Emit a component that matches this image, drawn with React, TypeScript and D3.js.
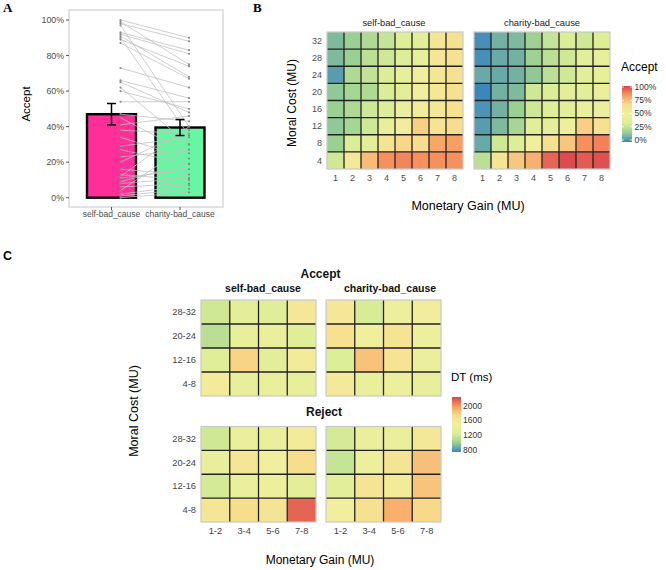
import React from "react";
import * as d3 from "d3";

// ---------- Data ----------
const conditions = ["self-bad_cause", "charity-bad_cause"];
const barMeans = [47, 39.5];
const barSE = [6, 4.5];
const barColors = ["#ff2e98", "#66f7a2"];

// per-subject acceptance (%)
const subjSelf = [100, 99, 98, 97, 93, 92, 91, 90, 89, 87, 73, 66, 65, 62, 60, 54, 47, 45, 41, 38, 34, 29, 27, 23, 20, 16, 12, 11, 8, 6, 4, 2, 1, 0, 13, 9];
const subjCharity = [90, 75, 88, 40, 83, 81, 68, 35, 74, 67, 62, 56, 48, 30, 50, 54, 43, 25, 46, 36, 22, 34, 19, 27, 38, 13, 40, 16, 11, 8, 30, 7, 5, 3, 10, 19];
const pctTicks = [0, 20, 40, 60, 80, 100];

const gains = [1, 2, 3, 4, 5, 6, 7, 8];
const costs = [32, 28, 24, 20, 16, 12, 8, 4];
// rows: cost 32 (top) -> 4 (bottom); cols: gain 1..8
const acceptSelf = [
  [0.12, 0.17, 0.22, 0.28, 0.35, 0.38, 0.58, 0.62],
  [0.12, 0.17, 0.25, 0.3, 0.35, 0.42, 0.58, 0.62],
  [0.05, 0.22, 0.27, 0.33, 0.42, 0.5, 0.58, 0.62],
  [0.15, 0.2, 0.22, 0.33, 0.4, 0.5, 0.57, 0.62],
  [0.17, 0.22, 0.3, 0.35, 0.45, 0.52, 0.57, 0.62],
  [0.15, 0.2, 0.3, 0.42, 0.52, 0.7, 0.6, 0.65],
  [0.17, 0.33, 0.4, 0.6, 0.68, 0.65, 0.8, 0.82],
  [0.3, 0.55, 0.75, 0.85, 0.87, 0.85, 0.85, 0.85],
];
const acceptCharity = [
  [0.02, 0.1, 0.12, 0.18, 0.28, 0.33, 0.3, 0.35],
  [0.02, 0.08, 0.1, 0.18, 0.25, 0.3, 0.38, 0.42],
  [0.08, 0.08, 0.1, 0.15, 0.25, 0.3, 0.38, 0.42],
  [0.0, 0.1, 0.12, 0.3, 0.33, 0.4, 0.38, 0.45],
  [0.03, 0.1, 0.17, 0.3, 0.35, 0.4, 0.45, 0.45],
  [0.05, 0.12, 0.2, 0.38, 0.4, 0.48, 0.7, 0.62],
  [0.08, 0.3, 0.35, 0.5, 0.62, 0.72, 0.85, 0.88],
  [0.25, 0.6, 0.72, 0.78, 0.93, 0.98, 0.95, 0.97],
];
const acceptTicks = [0, 0.25, 0.5, 0.75, 1];

const gainBins = ["1-2", "3-4", "5-6", "7-8"];
const costBins = ["28-32", "20-24", "12-16", "4-8"];
const dtAcceptSelf = [
  [1200, 1350, 1300, 1600],
  [1120, 1380, 1400, 1300],
  [1300, 1780, 1350, 1550],
  [1550, 1380, 1420, 1380],
];
const dtAcceptCharity = [
  [1600, 1230, 1450, 1520],
  [1700, 1480, 1650, 1450],
  [1250, 1850, 1650, 1430],
  [1580, 1420, 1440, 1380],
];
const dtRejectSelf = [
  [1200, 1420, 1420, 1550],
  [1380, 1620, 1500, 1720],
  [1220, 1420, 1460, 1350],
  [1620, 1730, 1650, 2150],
];
const dtRejectCharity = [
  [1220, 1420, 1400, 1600],
  [1170, 1450, 1650, 1860],
  [1330, 1650, 1550, 1840],
  [1500, 1680, 1920, 1760],
];
const dtTicks = [800, 1200, 1600, 2000];

// Spectral (reversed) as it appears in the figure
const spectral = ["#3b86bb", "#98d093", "#dcee96", "#f1ef9e", "#f8dc8c", "#f99a5f", "#d8414d"];

// ---------- Helpers ----------
const sans = "'Liberation Sans', Arial, sans-serif";
const tickGrey = "#4d4d4d";

function Heat({ data, xDom, yDom, x0, x1, y0, y1, color }: any) {
  const xs = d3.scaleBand<any>().domain(xDom).range([x0, x1]);
  const ys = d3.scaleBand<any>().domain(yDom).range([y0, y1]);
  return (
    <g>
      {data.map((row: number[], i: number) =>
        row.map((v, j) => (
          <rect key={i + "-" + j} x={xs(xDom[j])} y={ys(yDom[i])} width={xs.bandwidth()} height={ys.bandwidth()} fill={color(v)} />
        ))
      )}
      {xDom.slice(1).map((d: any) => (
        <line key={"vx" + d} x1={xs(d)} x2={xs(d)} y1={y0} y2={y1} stroke="#222" strokeWidth={1.3} />
      ))}
      {yDom.slice(1).map((d: any) => (
        <line key={"hy" + d} x1={x0} x2={x1} y1={ys(d)} y2={ys(d)} stroke="#222" strokeWidth={1.3} />
      ))}
      <rect x={x0} y={y0} width={x1 - x0} height={y1 - y0} fill="none" stroke="#c8c8c8" strokeWidth={1.2} />
    </g>
  );
}

export default function App() {
  // ---- Panel A ----
  const yA = d3.scaleLinear().domain([0, 100]).range([197.7, 20]);
  const xA = d3.scaleBand<string>().domain(conditions).range([87, 204.5]).paddingInner(0.285).paddingOuter(0);
  const cx = (c: string) => (xA(c) as number) + xA.bandwidth() / 2;
  const nudge = 9;

  // ---- Panel B ----
  const accColor = d3.scaleLinear<string>().domain(spectral.map((_, i) => i / (spectral.length - 1))).range(spectral).clamp(true);
  const bY = d3.scaleBand<number>().domain(costs).range([32, 169]);
  const bXL = d3.scaleBand<number>().domain(gains).range([327, 463]);
  const bXR = d3.scaleBand<number>().domain(gains).range([474, 610]);
  const legBY = d3.scaleLinear().domain([0, 1]).range([140, 87]);

  // ---- Panel C ----
  const dtColor = d3.scaleLinear<string>().domain(spectral.map((_, i) => 750 + (i * 1500) / (spectral.length - 1))).range(spectral).clamp(true);
  const cXL = d3.scaleBand<string>().domain(gainBins).range([201, 316]);
  const cXR = d3.scaleBand<string>().domain(gainBins).range([326, 441]);
  const cYT = d3.scaleBand<string>().domain(costBins).range([300, 396]);
  const cYB = d3.scaleBand<string>().domain(costBins).range([426.5, 522]);
  const legCY = d3.scaleLinear().domain([800, 2000]).range([450, 405.7]);

  return (
    <svg width={666} height={570} style={{ position: "absolute", left: 0, top: 0, background: "#fff" }}>
      <defs>
        <linearGradient id="gB" x1="0" x2="0" y1="1" y2="0">
          {spectral.map((c, i) => (
            <stop key={i} offset={i / (spectral.length - 1)} stopColor={c} />
          ))}
        </linearGradient>
      </defs>

      {/* Panel letters */}
      <text x={3} y={12} fontFamily="'Liberation Serif', serif" fontWeight="bold" fontSize={13}>A</text>
      <text x={253} y={12} fontFamily="'Liberation Serif', serif" fontWeight="bold" fontSize={13}>B</text>
      <text x={3} y={260} fontFamily={sans} fontWeight="bold" fontSize={12.5}>C</text>

      {/* ===== Panel A ===== */}
      <rect x={69} y={10} width={154} height={197} fill="#fff" stroke="#cfcfcf" strokeWidth={1.2} />
      {pctTicks.map((t) => (
        <g key={t}>
          <line x1={66} x2={69} y1={yA(t)} y2={yA(t)} stroke="#555" />
          <text x={64} y={yA(t)} dy="0.35em" textAnchor="end" fontSize={8.8} fill={tickGrey} fontFamily={sans}>{t}%</text>
        </g>
      ))}
      {conditions.map((c) => (
        <g key={c}>
          <line x1={cx(c)} x2={cx(c)} y1={207} y2={210} stroke="#555" />
          <text x={cx(c)} y={216.5} textAnchor="middle" fontSize={8.5} fill={tickGrey} fontFamily={sans}>{c}</text>
        </g>
      ))}
      <text transform={`translate(29.5,104) rotate(-90)`} textAnchor="middle" fontSize={11.5} fontFamily={sans}>Accept</text>
      {conditions.map((c, i) => (
        <rect key={c} x={xA(c)} y={yA(barMeans[i])} width={xA.bandwidth()} height={yA(0) - yA(barMeans[i])} fill={barColors[i]} stroke="#000" strokeWidth={2.4} />
      ))}
      {subjSelf.map((v, i) => (
        <line key={"l" + i} x1={cx(conditions[0]) + nudge} x2={cx(conditions[1]) + nudge} y1={yA(v)} y2={yA(subjCharity[i])} stroke="#c2c2c2" strokeWidth={0.8} />
      ))}
      {subjSelf.map((v, i) => (
        <circle key={"ps" + i} cx={cx(conditions[0]) + nudge} cy={yA(v)} r={1.1} fill="#8a8a8a" />
      ))}
      {subjCharity.map((v, i) => (
        <circle key={"pc" + i} cx={cx(conditions[1]) + nudge} cy={yA(v)} r={1.1} fill="#8a8a8a" />
      ))}
      {conditions.map((c, i) => {
        const x = cx(c);
        const hi = yA(barMeans[i] + barSE[i]);
        const lo = yA(barMeans[i] - barSE[i]);
        return (
          <g key={"e" + c} stroke="#000" strokeWidth={1.5}>
            <line x1={x} x2={x} y1={hi} y2={lo} />
            <line x1={x - 4.5} x2={x + 4.5} y1={hi} y2={hi} />
            <line x1={x - 4.5} x2={x + 4.5} y1={lo} y2={lo} />
          </g>
        );
      })}

      {/* ===== Panel B ===== */}
      <text x={394} y={26} textAnchor="middle" fontSize={9.3} fill="#222" fontFamily={sans}>{conditions[0]}</text>
      <text x={542} y={26} textAnchor="middle" fontSize={9.3} fill="#222" fontFamily={sans}>{conditions[1]}</text>
      <Heat data={acceptSelf} xDom={gains} yDom={costs} x0={327} x1={463} y0={32} y1={169} color={accColor} />
      <Heat data={acceptCharity} xDom={gains} yDom={costs} x0={474} x1={610} y0={32} y1={169} color={accColor} />
      {costs.map((c) => (
        <text key={c} x={322} y={(bY(c) as number) + bY.bandwidth() / 2} dy="0.35em" textAnchor="end" fontSize={9} fill={tickGrey} fontFamily={sans}>{c}</text>
      ))}
      {gains.map((g) => (
        <g key={g}>
          <text x={(bXL(g) as number) + bXL.bandwidth() / 2} y={181} textAnchor="middle" fontSize={9} fill={tickGrey} fontFamily={sans}>{g}</text>
          <text x={(bXR(g) as number) + bXR.bandwidth() / 2} y={181} textAnchor="middle" fontSize={9} fill={tickGrey} fontFamily={sans}>{g}</text>
        </g>
      ))}
      <text transform={`translate(296,103) rotate(-90)`} textAnchor="middle" fontSize={12} fontFamily={sans}>Moral Cost (MU)</text>
      <text x={468} y={209.5} textAnchor="middle" fontSize={12.5} fontFamily={sans}>Monetary Gain (MU)</text>
      <text x={621} y={71} fontSize={12} fontFamily={sans}>Accept</text>
      <rect x={622} y={86} width={10} height={56} fill="url(#gB)" />
      {acceptTicks.map((t) => (
        <g key={t}>
          <line x1={622} x2={624} y1={legBY(t)} y2={legBY(t)} stroke="#fff" strokeWidth={0.8} />
          <line x1={630} x2={632} y1={legBY(t)} y2={legBY(t)} stroke="#fff" strokeWidth={0.8} />
          <text x={634.5} y={legBY(t)} dy="0.35em" fontSize={8.5} fill="#333" fontFamily={sans}>{Math.round(t * 100)}%</text>
        </g>
      ))}

      {/* ===== Panel C ===== */}
      <text x={320.5} y={277.5} textAnchor="middle" fontSize={12} fontWeight="bold" fontFamily={sans} fill="#111">Accept</text>
      <text x={324} y={415.5} textAnchor="middle" fontSize={12} fontWeight="bold" fontFamily={sans} fill="#111">Reject</text>
      <text x={263} y={292} textAnchor="middle" fontSize={10.5} fontWeight="bold" fontFamily={sans} fill="#111">{conditions[0]}</text>
      <text x={390} y={292} textAnchor="middle" fontSize={10.5} fontWeight="bold" fontFamily={sans} fill="#111">{conditions[1]}</text>
      <Heat data={dtAcceptSelf} xDom={gainBins} yDom={costBins} x0={201} x1={316} y0={300} y1={396} color={dtColor} />
      <Heat data={dtAcceptCharity} xDom={gainBins} yDom={costBins} x0={326} x1={441} y0={300} y1={396} color={dtColor} />
      <Heat data={dtRejectSelf} xDom={gainBins} yDom={costBins} x0={201} x1={316} y0={426.5} y1={522} color={dtColor} />
      <Heat data={dtRejectCharity} xDom={gainBins} yDom={costBins} x0={326} x1={441} y0={426.5} y1={522} color={dtColor} />
      {costBins.map((c) => (
        <g key={c}>
          <text x={196} y={(cYT(c) as number) + cYT.bandwidth() / 2} dy="0.35em" textAnchor="end" fontSize={9.3} fill="#444" fontFamily={sans}>{c}</text>
          <text x={196} y={(cYB(c) as number) + cYB.bandwidth() / 2} dy="0.35em" textAnchor="end" fontSize={9.3} fill="#444" fontFamily={sans}>{c}</text>
        </g>
      ))}
      {gainBins.map((g) => (
        <g key={g}>
          <text x={(cXL(g) as number) + cXL.bandwidth() / 2} y={533.5} textAnchor="middle" fontSize={9.3} fill="#444" fontFamily={sans}>{g}</text>
          <text x={(cXR(g) as number) + cXR.bandwidth() / 2} y={533.5} textAnchor="middle" fontSize={9.3} fill="#444" fontFamily={sans}>{g}</text>
        </g>
      ))}
      <text transform={`translate(138,411) rotate(-90)`} textAnchor="middle" fontSize={12.5} fontFamily={sans}>Moral Cost (MU)</text>
      <text x={320} y={564} textAnchor="middle" fontSize={12} fontFamily={sans}>Monetary Gain (MU)</text>
      <text x={451} y={381} fontSize={11.5} fontFamily={sans}>DT (ms)</text>
      <rect x={452} y={397} width={9} height={55} fill="url(#gB)" />
      {dtTicks.map((t) => (
        <text key={t} x={463} y={legCY(t)} dy="0.35em" fontSize={8.5} fill="#333" fontFamily={sans}>{t}</text>
      ))}
    </svg>
  );
}
